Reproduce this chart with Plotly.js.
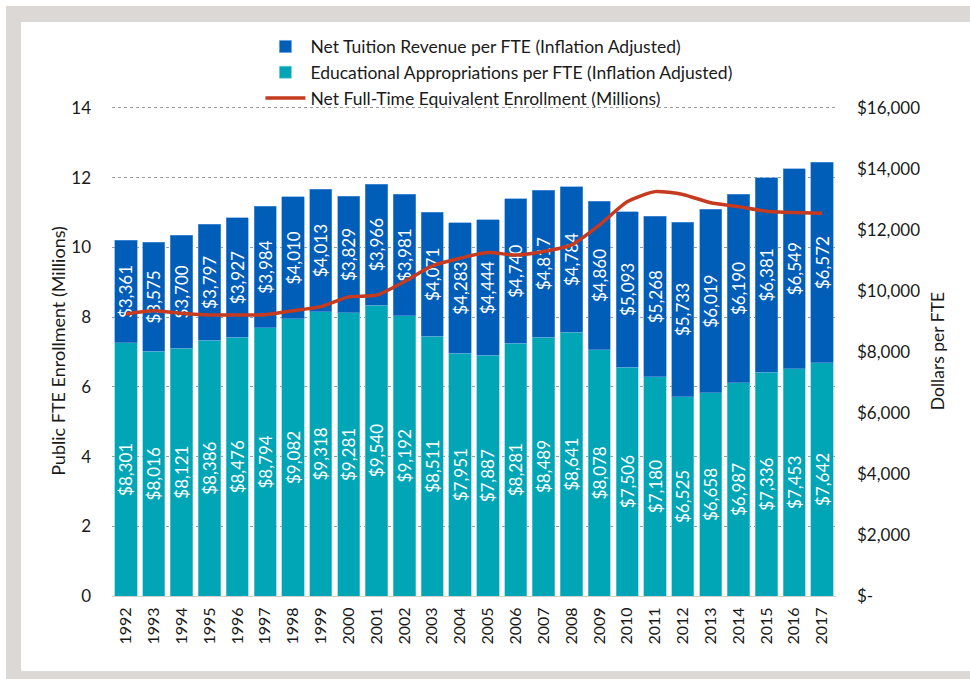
<!DOCTYPE html>
<html>
<head>
<meta charset="utf-8">
<script src="https://cdn.plot.ly/plotly-3.0.1.min.js"></script>
<style>
  html, body { margin: 0; padding: 0; background: #ffffff; }
  #frame { position: absolute; left: 6px; top: 6px; width: 964px; height: 673px; box-sizing: border-box;
           border-top: 16px solid #dcd8d5; border-left: 15px solid #dcd8d5; border-bottom: 8px solid #dcd8d5; }
  #chart { position: absolute; left: 0; top: 0; width: 970px; height: 679px; }
</style>
</head>
<body>
<div id="frame"></div>
<div id="chart"></div>
<script>
const years = ['1992','1993','1994','1995','1996','1997','1998','1999','2000','2001','2002','2003','2004',
               '2005','2006','2007','2008','2009','2010','2011','2012','2013','2014','2015','2016','2017'];
const appropriations = [8301,8016,8121,8386,8476,8794,9082,9318,9281,9540,9192,8511,7951,
                        7887,8281,8489,8641,8078,7506,7180,6525,6658,6987,7336,7453,7642];
const tuition = [3361,3575,3700,3797,3927,3984,4010,4013,3829,3966,3981,4071,4283,
                 4444,4740,4817,4784,4860,5093,5268,5733,6019,6190,6381,6549,6572];
const enrollment = [8.09,8.18,8.11,8.06,8.06,8.07,8.18,8.30,8.58,8.63,9.02,9.47,9.69,
                    9.85,9.78,9.88,10.07,10.64,11.31,11.60,11.52,11.28,11.17,11.04,11.00,10.98];
const dollarTicks = [0,2000,4000,6000,8000,10000,12000,14000,16000];
const dollarLabels = ['$-','$2,000','$4,000','$6,000','$8,000','$10,000','$12,000','$14,000','$16,000'];

// small headroom above the top tick so the top gridline is kept
const LEFT_MAX = 14, RIGHT_MAX = 16000, PAD = 1.004;

const FONT = 'Lato, "Open Sans", sans-serif';
const TXT = '#1a1a1a';
const barText = {
  textposition: 'inside', insidetextanchor: 'middle', textangle: -90, constraintext: 'none',
  texttemplate: '$%{y:,.0f}', textfont: {family: FONT, size: 17, color: '#ffffff'}
};

const traces = [
  Object.assign({
    type: 'bar', name: 'Educational Appropriations per FTE (Inflation Adjusted)',
    x: years, y: appropriations, yaxis: 'y', legendrank: 2,
    marker: {color: '#00a6b5', line: {color: '#6fd0d8', width: 0.6}}
  }, barText),
  Object.assign({
    type: 'bar', name: 'Net Tuition Revenue per FTE (Inflation Adjusted)',
    x: years, y: tuition, yaxis: 'y', legendrank: 1,
    marker: {color: '#005db8', line: {color: '#5d9be0', width: 0.6}}
  }, barText),
  {
    type: 'scatter', mode: 'lines', name: 'Net Full-Time Equivalent Enrollment (Millions)',
    x: years, y: enrollment, yaxis: 'y2', legendrank: 3,
    line: {color: '#c63a1f', width: 3.5, shape: 'spline', smoothing: 0.6}
  }
];

const layout = {
  width: 970, height: 679,
  paper_bgcolor: 'rgba(0,0,0,0)', plot_bgcolor: 'rgba(0,0,0,0)',
  font: {family: FONT, size: 17, color: TXT},
  margin: {l: 112, r: 134, t: 106, b: 83},
  barmode: 'stack', bargap: 0.2,
  showlegend: true,
  legend: {x: 0.205, xanchor: 'left', y: 1.158, yanchor: 'top', orientation: 'v', traceorder: 'normal',
           font: {family: FONT, size: 17.5, color: TXT}, itemwidth: 40,
           bgcolor: 'rgba(0,0,0,0)', tracegroupgap: 0},
  xaxis: {type: 'category', tickangle: -90, showgrid: false, zeroline: false,
          showline: true, linecolor: '#d0d0d0', ticks: '', ticklabelstandoff: 4,
          tickfont: {family: FONT, size: 16, color: TXT}},
  yaxis: {side: 'right', range: [0, RIGHT_MAX * PAD], tickvals: dollarTicks, ticktext: dollarLabels,
          showgrid: false, zeroline: false, ticks: '', ticklabelstandoff: 20,
          tickfont: {family: FONT, size: 17, color: TXT},
          title: {text: 'Dollars per FTE', font: {family: FONT, size: 17.5, color: TXT}, standoff: 12}},
  yaxis2: {side: 'left', overlaying: 'y', range: [0, LEFT_MAX * PAD], dtick: 2, tick0: 0,
           showgrid: true, gridcolor: '#9a9a9a', griddash: 'dot', gridwidth: 1,
           zeroline: false, ticks: '', ticklabelstandoff: 20,
           tickfont: {family: FONT, size: 17, color: TXT},
           title: {text: 'Public FTE Enrollment (Millions)', font: {family: FONT, size: 18, color: TXT}, standoff: 0}}
};

Plotly.newPlot('chart', traces, layout, {displayModeBar: false, staticPlot: true});
</script>
</body>
</html>
